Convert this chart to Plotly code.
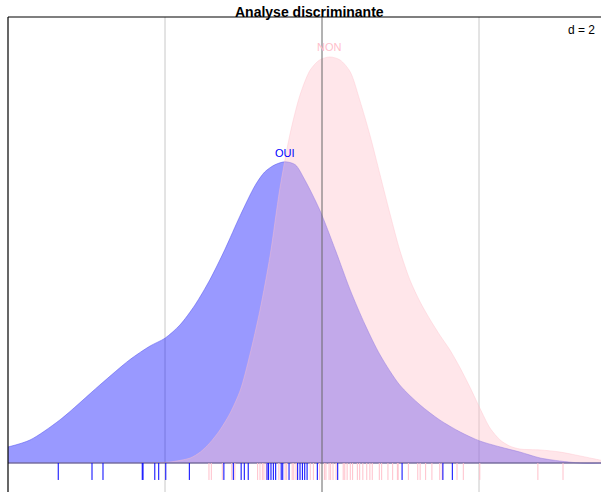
import plotly.graph_objects as go

# Discriminant scores (x) and density (y)
oui_x = [-4.00, -3.72, -3.34, -2.83, -2.45, -2.19, -2.00, -1.81, -1.62, -1.43, -1.24, -1.04,
         -0.85, -0.73, -0.60, -0.47, -0.34, -0.22, -0.03, 0.17, 0.36, 0.55, 0.74, 0.99,
         1.25, 1.50, 1.76, 2.01, 2.27, 2.52, 2.78, 3.03, 3.29, 3.60]
oui_y = [0.0267, 0.0383, 0.0717, 0.130, 0.172, 0.195, 0.208, 0.230, 0.263, 0.305, 0.355, 0.413,
         0.463, 0.485, 0.497, 0.502, 0.497, 0.472, 0.422, 0.355, 0.288, 0.230, 0.180, 0.130,
         0.0967, 0.0717, 0.0517, 0.0367, 0.0267, 0.0183, 0.0083, 0.0033, 0.0, 0.0]

non_x = [-2.19, -1.94, -1.68, -1.55, -1.43, -1.30, -1.17, -1.04, -0.92, -0.79, -0.66, -0.54,
         -0.41, -0.28, -0.15, -0.03, 0.10, 0.23, 0.36, 0.48, 0.61, 0.74, 0.87, 0.99,
         1.12, 1.25, 1.38, 1.50, 1.63, 1.76, 1.89, 2.01, 2.14, 2.27, 2.39, 2.52,
         2.78, 3.03, 3.29, 3.60]
non_y = [0.0, 0.0017, 0.0083, 0.0183, 0.0333, 0.055, 0.0833, 0.1217, 0.18, 0.255, 0.3467, 0.455,
         0.5467, 0.6133, 0.655, 0.6717, 0.6767, 0.6717, 0.6517, 0.605, 0.5467, 0.48, 0.4133, 0.355,
         0.305, 0.2683, 0.2383, 0.2133, 0.1883, 0.1583, 0.125, 0.0917, 0.0583, 0.0383, 0.0283, 0.0233,
         0.0217, 0.0183, 0.0117, 0.0033]

oui_scores = [-3.36, -2.93, -2.79, -2.29, -2.28, -2.13, -2.08, -1.99, -1.69, -1.25, -1.13, -1.03,
              -0.99, -0.94, -0.70, -0.68, -0.65, -0.62, -0.59, -0.52, -0.50, -0.42, -0.31, -0.28,
              -0.25, -0.22, -0.19, -0.06, 0.20, 1.02, 1.54, 1.66]
non_scores = [-1.44, -1.41, -1.27, -1.15, -1.11, -0.82, -0.79, -0.76, -0.74, -0.71, -0.55, -0.47,
              -0.45, -0.38, -0.36, -0.33, -0.15, -0.11, -0.03, 0.03, 0.05, 0.09, 0.11, 0.14,
              0.18, 0.27, 0.29, 0.32, 0.36, 0.39, 0.45, 0.48, 0.52, 0.57, 0.61, 0.64,
              0.73, 0.76, 0.84, 0.90, 0.96, 0.97, 1.10, 1.22, 1.25, 1.32, 1.40, 1.50,
              1.53, 1.72, 1.80, 2.01, 2.75, 3.07]

group_names = ["OUI", "NON"]
grid_step = 2
rug_len = 0.0283

X_RANGE = [-4.0, 3.554]
Y_RANGE = [-0.04833, 0.7433]

fig = go.Figure()

# densities
fig.add_trace(go.Scatter(x=oui_x, y=oui_y, mode="lines", fill="tozeroy",
                         fillcolor="rgba(0,0,255,0.4)",
                         line=dict(color="rgba(80,80,240,0.5)", width=1, shape="spline", smoothing=0.8),
                         hoverinfo="skip", showlegend=False))
fig.add_trace(go.Scatter(x=non_x, y=non_y, mode="lines", fill="tozeroy",
                         fillcolor="rgba(255,192,203,0.4)",
                         line=dict(color="rgba(255,192,203,0.4)", width=1, shape="spline", smoothing=0.8),
                         hoverinfo="skip", showlegend=False))

# baseline
fig.add_trace(go.Scatter(x=X_RANGE, y=[0, 0], mode="lines",
                         line=dict(color="rgba(110,100,150,0.9)", width=1.5),
                         hoverinfo="skip", showlegend=False))


def rug(scores):
    xs, ys = [], []
    for s in scores:
        xs += [s, s, None]
        ys += [0, -rug_len, None]
    return xs, ys


for scores, col in [(non_scores, "pink"), (oui_scores, "blue")]:
    rx, ry = rug(scores)
    fig.add_trace(go.Scatter(x=rx, y=ry, mode="lines", line=dict(color=col, width=1),
                             hoverinfo="skip", showlegend=False))

# group labels above peaks
for name, xs, ys, col, shift in [("OUI", oui_x, oui_y, "blue", 9),
                                 ("NON", non_x, non_y, "pink", 10)]:
    i = max(range(len(ys)), key=lambda k: ys[k])
    fig.add_annotation(x=xs[i], y=ys[i], text=name, showarrow=False, yshift=shift,
                       font=dict(family="Liberation Sans, Arial", size=11, color=col))

shapes = []
for gx in [-grid_step, grid_step]:
    shapes.append(dict(type="line", xref="x", yref="paper", x0=gx, x1=gx, y0=0, y1=1,
                       line=dict(color="#c8c8c8", width=1), layer="below"))
shapes.append(dict(type="line", xref="x", yref="paper", x0=0, x1=0, y0=0, y1=1,
                   line=dict(color="#666666", width=1), layer="above"))
shapes.append(dict(type="line", xref="paper", yref="paper", x0=0, x1=0, y0=0, y1=1,
                   line=dict(color="black", width=1.2)))
shapes.append(dict(type="line", xref="paper", yref="paper", x0=0, x1=1, y0=1, y1=1,
                   line=dict(color="black", width=1.2)))

fig.add_annotation(xref="paper", yref="paper", x=(310 - 8) / 593, y=1 + 5 / 475,
                   text="<b>Analyse discriminante</b>", showarrow=False,
                   xanchor="center", yanchor="middle",
                   font=dict(family="Liberation Sans, Arial", size=14, color="black"))
fig.add_annotation(xref="paper", yref="paper", x=0.993, y=1 - 13 / 475,
                   text=f"d = {grid_step}", showarrow=False, xanchor="right", yanchor="middle",
                   bgcolor="white",
                   font=dict(family="Liberation Sans, Arial", size=12, color="black"))

fig.update_layout(
    width=601, height=492, margin=dict(l=8, r=0, t=17, b=0),
    paper_bgcolor="white", plot_bgcolor="white",
    xaxis=dict(range=X_RANGE, showgrid=False, zeroline=False, showticklabels=False,
               ticks="", showline=False),
    yaxis=dict(range=Y_RANGE, showgrid=False, zeroline=False, showticklabels=False,
               ticks="", showline=False),
    shapes=shapes, showlegend=False,
)

fig.write_html("out.html")
